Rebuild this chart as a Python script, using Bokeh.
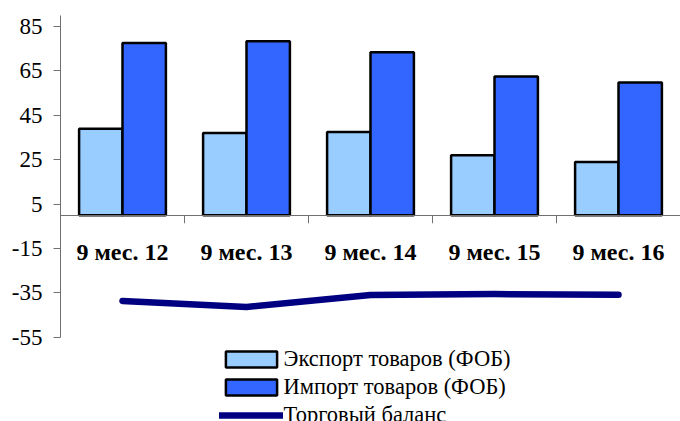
from bokeh.plotting import figure
from bokeh.models import (FactorRange, Range1d, FixedTicker, Legend, LegendItem,
                          ColumnDataSource, CategoricalAxis, LinearAxis)
from bokeh.transform import dodge
from bokeh.embed import file_html
from bokeh.resources import INLINE

categories = ["9 мес. 12", "9 мес. 13", "9 мес. 14", "9 мес. 15", "9 мес. 16"]
export = [39.0, 37.1, 37.5, 27.0, 24.0]
imports = [77.6, 78.4, 73.4, 62.5, 59.8]
balance = [-38.6, -41.3, -35.9, -35.5, -35.8]
y_ticks = [-55, -35, -15, 5, 25, 45, 65, 85]
y_tick_labels = ["-55", "-35", "-15", "5", "25", "45", "65", "85"]
series_names = ["Экспорт товаров (ФОБ)", "Импорт товаров (ФОБ)", "Торговый баланс"]

FONT = "Liberation Serif"
AXIS_COLOR = "#707070"

# frame runs down to the bottom of the figure so that the legend (drawn inside it)
# is not clipped; the y axis line is bounded to the visible value range
p = figure(width=680, height=421,
           x_range=FactorRange(*categories, range_padding=0),
           y_range=Range1d(-92.9, 90),
           output_backend="svg", toolbar_location=None,
           x_axis_location=None, y_axis_location=None,
           min_border_left=60, min_border_right=0,
           min_border_top=15, min_border_bottom=0)
p.grid.visible = False
p.outline_line_color = None
p.background_fill_color = "white"

src = ColumnDataSource(dict(cat=categories, export=export, imports=imports, balance=balance))
bsrc = ColumnDataSource(dict(cat=categories[:-1]))

r1 = p.vbar(x=dodge("cat", -0.175, range=p.x_range), top="export", bottom=0, width=0.35,
            source=src, fill_color="#99CCFF", line_color="black", line_width=2.5)
r2 = p.vbar(x=dodge("cat", 0.175, range=p.x_range), top="imports", bottom=0, width=0.35,
            source=src, fill_color="#3366FF", line_color="black", line_width=2.5)
r3 = p.line(x="cat", y="balance", source=src, line_color="#000080", line_width=6.5,
            line_cap="round", line_join="round")

# category boundary ticks on the zero axis
p.segment(x0=dodge("cat", 0.5, range=p.x_range), x1=dodge("cat", 0.5, range=p.x_range),
          y0=0, y1=-3.6, source=bsrc, line_color=AXIS_COLOR, line_width=1)

xaxis = CategoricalAxis(fixed_location=0)
xaxis.axis_line_color = AXIS_COLOR
xaxis.major_tick_line_color = None
xaxis.major_tick_out = 0
xaxis.major_tick_in = 0
xaxis.major_label_standoff = 24
xaxis.major_label_text_font = FONT
xaxis.major_label_text_font_style = "bold"
xaxis.major_label_text_font_size = "24px"
xaxis.major_label_text_color = "black"
p.add_layout(xaxis, "below")

yaxis = LinearAxis(ticker=FixedTicker(ticks=y_ticks, minor_ticks=[]), bounds=(-55, 90))
yaxis.major_label_overrides = {t: l for t, l in zip(y_ticks, y_tick_labels)}
yaxis.axis_line_color = AXIS_COLOR
yaxis.major_tick_line_color = AXIS_COLOR
yaxis.major_tick_out = 7
yaxis.major_tick_in = 0
yaxis.minor_tick_line_color = None
yaxis.major_label_standoff = 11
yaxis.major_label_text_font = FONT
yaxis.major_label_text_font_size = "23px"
yaxis.major_label_text_color = "black"
p.add_layout(yaxis, "left")

legend = Legend(items=[LegendItem(label=series_names[0], renderers=[r1]),
                       LegendItem(label=series_names[1], renderers=[r2]),
                       LegendItem(label=series_names[2], renderers=[r3])],
                location=(158.6, -7), padding=0, margin=0, spacing=2,
                glyph_width=64, glyph_height=20, label_height=25, label_standoff=1,
                label_text_font=FONT, label_text_font_size="22.5px",
                label_text_color="black",
                border_line_color=None, background_fill_alpha=0)
p.add_layout(legend)

open("out.html", "w").write(file_html(p, INLINE))
